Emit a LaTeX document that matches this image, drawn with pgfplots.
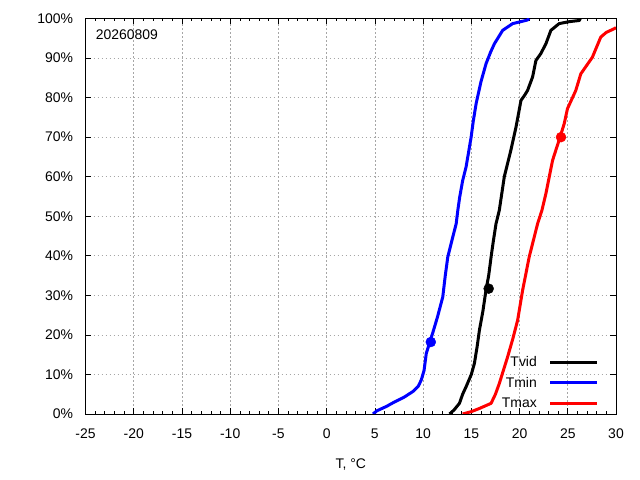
\documentclass[border=0pt]{standalone}
\usepackage{pgfplots}
\pgfplotsset{compat=1.18}
\usepackage{fontspec}
\setmainfont{Liberation Sans}
\begin{document}
\begin{tikzpicture}
\path[use as bounding box] (0,0) rectangle (640bp,480bp);
\begin{axis}[
  at={(85.5bp,66bp)}, anchor=south west,
  scale only axis, width=530.5bp, height=395.5bp,
  xmin=-25, xmax=30, ymin=0, ymax=100,
  xtick={-25,-20,...,30},
  xticklabels={-25,-20,-15,-10,-5,0,5,10,15,20,25,30},
  minor x tick num=4,
  ytick={0,10,...,100},
  yticklabels={0\%,10\%,20\%,30\%,40\%,50\%,60\%,70\%,80\%,90\%,100\%},
  tick align=inside,
  major tick length=6bp, minor tick length=3bp,
  tick style={black, line width=0.6bp},
  axis line style={black, line width=0.8bp},
  grid=major,
  major grid style={gray!70, line width=0.6bp, dash pattern=on 1.5bp off 2.5bp},
  ticklabel style={font=\fontsize{14}{16}\selectfont},
  xticklabel style={yshift=-11bp},
  yticklabel style={xshift=-9bp},
  xlabel={T, °C},
  xlabel style={at={(axis description cs:0.5,0)}, anchor=center, yshift=-51bp, font=\fontsize{14}{16}\selectfont},
  legend style={draw=none, fill=none, at={(axis description cs:0.968,0.008)}, anchor=south east,
    legend cell align=right, inner sep=0pt, row sep=5bp, font=\fontsize{14}{16}\selectfont,
    /tikz/every odd column/.append style={column sep=10bp}},
  legend plot pos=right,
  legend image code/.code={\draw[#1, line width=3bp] (0bp,0bp) -- (47bp,0bp);},
  clip=true,
]
\addplot[black, line width=3bp, line join=round] coordinates {
(12.74,0)(13.2,1)(13.77,2.7)(14.1,5)(14.46,6.9)(15.0,10)(15.32,12.8)(15.6,17)(15.84,21.2)(16.2,26)(16.53,31.5)(16.8,35)(17.05,39.7)(17.3,44)(17.56,48.1)(17.9,51.5)(18.42,60)(19.1,66.7)(19.63,72.5)(20.15,79.3)(20.5,80.5)(20.83,81.8)(21.35,85.2)(21.7,89.4)(22.2,91.1)(22.73,93.6)(23.25,97)(24.1,98.7)(25.14,99.2)(26.2,99.5)(26.3,100)
};
\addlegendentry{Tvid}
\addplot[blue, line width=3bp, line join=round] coordinates {
(4.81,0)(5.2,0.8)(6.19,1.9)(7,3)(8,4.2)(8.95,5.7)(9.5,7)(9.81,8.6)(10.1,11)(10.33,15.3)(10.67,18.0)(11.0,20.5)(11.5,24.6)(12.04,29.6)(12.3,35)(12.56,39.7)(13.0,44)(13.43,48.1)(13.6,51.5)(13.8,54.9)(14.1,59)(14.46,62.5)(14.98,70.0)(15.2,74)(15.5,78.5)(16.0,84)(16.53,88.6)(17.0,91.5)(17.39,93.6)(18.25,97)(19.28,98.7)(20.8,99.6)(21,100)
};
\addlegendentry{Tmin}
\addplot[red, line width=3bp, line join=round] coordinates {
(14.1,0)(15.0,0.6)(15.84,1.4)(17.05,2.7)(17.5,5)(17.9,7.7)(18.77,14.5)(19.3,19)(19.8,23.7)(20.32,31.3)(21.0,39.7)(21.87,48.1)(22.32,51.5)(22.73,55.7)(23.42,64.1)(24.2,70)(24.63,73.4)(24.97,77.2)(25.83,81.8)(26.35,86)(27.55,90.2)(28.42,95.3)(29.0,96.5)(29.8,97.4)(30,97.7)
};
\addlegendentry{Tmax}
\addplot[only marks, mark=*, mark size=5bp, black, forget plot] coordinates {(16.8,31.7)};
\addplot[only marks, mark=*, mark size=5bp, blue, forget plot] coordinates {(10.8,18.2)};
\addplot[only marks, mark=*, mark size=5bp, red, forget plot] coordinates {(24.3,70)};
\node[anchor=west, inner sep=0pt, font=\fontsize{14}{16}\selectfont] at (axis description cs:0.019,0.96) {20260809};
\end{axis}
\end{tikzpicture}
\end{document}
